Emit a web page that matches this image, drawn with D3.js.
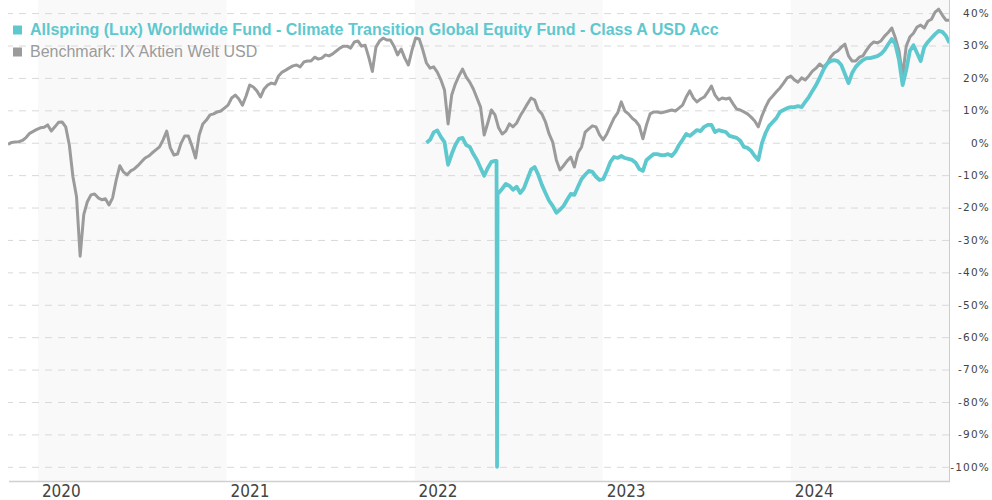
<!DOCTYPE html>
<html>
<head>
<meta charset="utf-8">
<title>Fund vs benchmark</title>
<style>
  body { margin: 0; background: #fff; }
  svg { display: block; }
</style>
</head>
<body>
<svg id="chart" width="992" height="500"></svg>
<script src="https://d3js.org/d3.v7.min.js"></script>
<script>
// series names
const fundName = "Allspring (Lux) Worldwide Fund - Climate Transition Global Equity Fund - Class A USD Acc"
const benchName = "Benchmark: IX Aktien Welt USD"

// x axis labels and shaded years
const years = [2020, 2021, 2022, 2023, 2024]
const shadedYears = [2020, 2022, 2024]

// y axis ticks (%)
const yTicks = [40, 30, 20, 10, 0, -10, -20, -30, -40, -50, -60, -70, -80, -90, -100]

// benchmark, weekly closes in % since start
const benchStart = "2019-11-04"
const benchValues = [
  -0.5, 0.1, 0.2, 0.3, 0.7, 1.6, 2.9, 3.5, 4.1, 4.6,
  4.8, 5.5, 3.6, 4.9, 6.3, 6.4, 4.9, -0.7, -10.5, -16.7,
  -35, -22.2, -18.2, -16.1, -15.8, -17.0, -17.6, -17.3, -19.2, -17.0,
  -11.5, -7.1, -9.0, -9.9, -8.7, -8.1, -7.1, -5.9, -4.7, -4.1,
  -3.1, -2.2, -1.3, 0.9, 3.6, -1.6, -3.8, -3.5, -0.1, 2.1,
  2.1, -1.0, -4.7, 2.4, 5.8, 7.0, 8.6, 8.9, 9.5, 9.8,
  10.7, 11.6, 13.8, 14.7, 13.5, 11.6, 14.4, 17.8, 17.2, 16.0,
  14.1, 16.6, 17.8, 18.4, 18.1, 20.6, 21.8, 22.4, 23.1, 23.7,
  24.0, 23.4, 24.9, 25.2, 25.2, 26.4, 25.8, 26.1, 27.1, 26.8,
  27.4, 28.3, 29.2, 29.8, 29.8, 29.2, 31.1, 31.4, 29.8, 30.1,
  26.4, 22.0, 29.5, 31.4, 32.3, 31.7, 31.7, 29.8, 27.1, 28.9,
  26.1, 24.0, 28.6, 32.3, 32.0, 28.6, 24.6, 23.0, 23.4, 21.8,
  19.4, 16.3, 5.8, 14.7, 18.1, 20.6, 22.7, 20.3, 18.7, 16.6,
  13.8, 11.0, 2.4, 6.1, 10.1, 8.6, 4.6, 2.7, 3.6, 5.8,
  4.9, 6.1, 8.3, 10.1, 12.0, 13.8, 13.2, 10.1, 8.9, 6.4,
  2.7, 0.2, -5.3, -8.4, -7.1, -5.6, -4.4, -7.5, -3.1, -1.3,
  3.3, 4.3, 5.2, 4.9, 2.4, 0.9, 2.7, 5.2, 7.6, 9.2,
  12.6, 9.8, 8.9, 7.6, 6.7, 5.2, 1.2, 5.5, 8.9, 9.5,
  9.5, 9.2, 9.5, 9.8, 10.1, 9.8, 10.7, 11.6, 14.1, 16.0,
  13.8, 12.6, 13.5, 14.1, 15.7, 17.5, 14.7, 13.2, 13.8, 13.5,
  13.8, 12.0, 10.4, 10.1, 9.5, 8.9, 7.9, 6.7, 4.9, 8.3,
  11.0, 13.2, 14.4, 15.7, 16.9, 18.4, 20.0, 20.6, 19.4, 18.7,
  20.0, 19.4, 20.6, 22.1, 23.0, 24.3, 23.4, 24.3, 26.4, 27.7,
  28.3, 29.5, 30.4, 26.8, 25.2, 25.2, 26.4, 26.8, 28.6, 30.1,
  31.1, 30.8, 31.4, 32.9, 34.0, 35.4, 32.3, 28.3, 20.6, 29.8,
  32.6, 33.8, 35.7, 36.3, 35.4, 37.5, 38.1, 40.3, 41.2, 39.4,
  37.8, 37.8
]

// fund, weekly closes in % since launch
const fundStart = "2022-01-24"
const fundValues = [
  0, 0.9, 3.2, 3.8, 1.8, 0.2, -6.8, -3.5, -0.7, 1.2,
  1.5, -0.7, -1.3, -3.5, -5.3, -7.8, -10.2, -7.8, -5.9, -5.6,
  -15.5, -14.2, -12.7, -13.3, -14.5, -13.6, -15.5, -14.1, -11.2, -8.3,
  -7.5, -9.9, -13.0, -15.5, -17.9, -19.5, -21.6, -20.7, -19.5, -17.6,
  -15.8, -16.1, -13.6, -11.2, -9.9, -8.7, -9.0, -10.5, -11.5, -11.2,
  -8.7, -5.9, -4.4, -4.7, -4.1, -4.7, -5.0, -5.3, -6.2, -8.1,
  -8.7, -5.3, -4.4, -3.5, -3.5, -3.8, -3.8, -3.5, -4.1, -2.8,
  -0.7, 0.9, 2.7, 2.1, 3.0, 3.9, 3.6, 4.9, 5.5, 5.5,
  3.3, 3.9, 3.6, 3.3, 2.1, 1.8, 1.5, 0.6, -1.3, -1.6,
  -2.5, -4.1, -5.3, -0.1, 3.0, 5.2, 6.4, 7.6, 9.5, 10.1,
  10.7, 11.0, 11.0, 11.3, 11.0, 12.6, 14.1, 16.0, 17.8, 20.0,
  22.4, 24.3, 25.2, 25.5, 25.2, 24.0, 21.2, 18.4, 21.5, 23.4,
  24.6, 25.5, 26.1, 26.1, 26.4, 26.7, 27.4, 28.6, 30.4, 32.0,
  30.4, 25.5, 17.8, 22.4, 28.3, 30.1, 27.7, 25.2, 29.5, 31.1,
  32.3, 33.5, 34.5, 34.2, 33.0, 30.8
]
// daily prints around the bad price in June 2022
const fundGlitch = [["2022-06-09", -5.6], ["2022-06-10", -100], ["2022-06-11", -15.5]]

const fundColor = "#5ec8cf"
const benchColor = "#9b9b9b"

let svg = d3.select("#chart")
let parse = d3.timeParse("%Y-%m-%d")

let plotLeft = 8, plotRight = 949, plotTop = 0, plotBottom = 481

let x = d3.scaleTime()
  .domain([parse("2019-11-04"), parse("2024-11-03")])
  .range([plotLeft, plotRight])

let y = d3.scaleLinear()
  .domain([-100, 40])
  .range([466.8, 13.1])

let weekly = (start, values) => values.map((v, i) => ({ date: d3.timeDay.offset(parse(start), 7 * i), value: v }))

let bench = weekly(benchStart, benchValues)
let fund = weekly(fundStart, fundValues)
  .concat(fundGlitch.map(d => ({ date: parse(d[0]), value: d[1] })))
  .sort((a, b) => a.date - b.date)

// shaded year bands
svg.append("g").selectAll("rect")
  .data(shadedYears)
  .enter().append("rect")
  .attr("x", d => x(new Date(d, 0, 1)))
  .attr("y", plotTop)
  .attr("width", d => Math.min(x(new Date(d + 1, 0, 1)), plotRight) - x(new Date(d, 0, 1)))
  .attr("height", plotBottom - plotTop)
  .attr("fill", "#f9f9f9")

// horizontal grid + right axis labels
let yAxis = svg.append("g")
  .attr("transform", `translate(${plotRight},0)`)
  .call(d3.axisRight(y).tickValues(yTicks).tickSize(-(plotRight - plotLeft)).tickFormat(d => d + "%"))
yAxis.select(".domain").remove()
yAxis.selectAll(".tick line")
  .attr("stroke", "#d9d9d9")
  .attr("stroke-dasharray", "7,6")
yAxis.selectAll(".tick text")
  .attr("x", 41)
  .attr("text-anchor", "end")
  .attr("fill", "#444")
  .style("font-family", "'DejaVu Sans', Verdana, sans-serif")
  .style("font-size", "10.5px")
  .style("letter-spacing", "1.2px")

// frame lines
svg.append("line")
  .attr("x1", plotRight + 0.5).attr("x2", plotRight + 0.5)
  .attr("y1", plotTop).attr("y2", plotBottom)
  .attr("stroke", "#cccccc")
svg.append("line")
  .attr("x1", plotLeft + 1).attr("x2", plotRight + 1)
  .attr("y1", plotBottom + 0.5).attr("y2", plotBottom + 0.5)
  .attr("stroke", "#d0d0d0")
  .attr("stroke-width", 1.5)

// year labels
svg.append("g").selectAll("text")
  .data(years)
  .enter().append("text")
  .attr("x", d => x(new Date(d, 0, 1)) + 4)
  .attr("y", 497)
  .attr("fill", "#444")
  .style("font-family", "'Liberation Sans Narrow', 'DejaVu Sans Condensed', sans-serif")
  .style("font-size", "17px")
  .text(d => d)

// lines
svg.append("clipPath").attr("id", "plot")
  .append("rect").attr("x", plotLeft).attr("y", plotTop).attr("width", plotRight - plotLeft).attr("height", plotBottom - plotTop)

let line = d3.line()
  .x(d => x(d.date))
  .y(d => y(d.value))

let lines = svg.append("g").attr("clip-path", "url(#plot)")
lines.append("path")
  .attr("d", line(bench))
  .attr("fill", "none")
  .attr("stroke", benchColor)
  .attr("stroke-width", 3)
  .attr("stroke-linejoin", "round")
lines.append("path")
  .attr("d", line(fund))
  .attr("fill", "none")
  .attr("stroke", fundColor)
  .attr("stroke-width", 3.8)
  .attr("stroke-linejoin", "round")

// legend
let legend = svg.append("g")
  .style("font-family", "'Liberation Sans', Arial, sans-serif")
  .style("font-size", "16px")
let items = [
  { name: fundName, color: fundColor, weight: "bold", y: 35 },
  { name: benchName, color: benchColor, weight: "normal", y: 57 }
]
items.forEach(d => {
  legend.append("rect")
    .attr("x", 13).attr("y", d.y - 9.5)
    .attr("width", 9).attr("height", 9)
    .attr("fill", d.color)
  legend.append("text")
    .attr("x", 30).attr("y", d.y)
    .attr("fill", d.color)
    .style("font-weight", d.weight)
    .text(d.name)
})
</script>
</body>
</html>
